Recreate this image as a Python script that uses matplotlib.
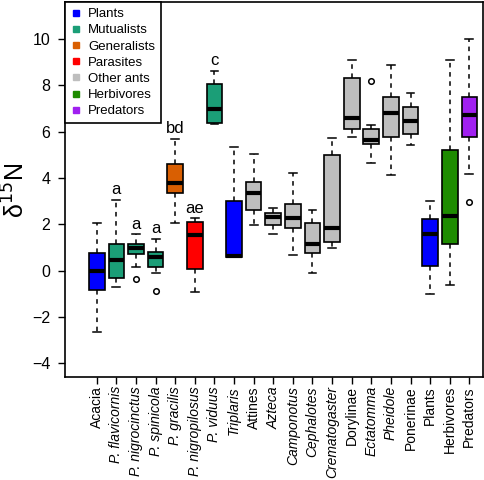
import matplotlib
matplotlib.use("Agg")
import matplotlib.pyplot as plt
from matplotlib.lines import Line2D

plt.rcParams['font.family'] = ['Liberation Sans', 'DejaVu Sans']

# categories on the x axis and whether the name is set in italics
names = ['Acacia', 'P. flavicornis', 'P. nigrocinctus', 'P. spinicola', 'P. gracilis',
         'P. nigropilosus', 'P. viduus', 'Triplaris', 'Attines', 'Azteca', 'Camponotus',
         'Cephalotes', 'Crematogaster', 'Dorylinae', 'Ectatomma', 'Pheidole', 'Ponerinae',
         'Plants', 'Herbivores', 'Predators']
italic = [False, True, True, True, True, True, True, True, False, True, True,
          True, True, False, True, True, False, False, False, False]
group = ['Plants', 'Mutualists', 'Mutualists', 'Mutualists', 'Generalists',
         'Parasites', 'Mutualists', 'Plants', 'Other ants', 'Other ants', 'Other ants',
         'Other ants', 'Other ants', 'Other ants', 'Other ants', 'Other ants', 'Other ants',
         'Plants', 'Herbivores', 'Predators']

# box statistics (delta 15N)
whislo = [-2.64, -0.70, 0.16, -0.12, 2.06, -0.94, 6.34, 0.57, 1.96, 1.60, 0.67,
          -0.09, 0.96, 5.77, 4.65, 4.12, 5.41, -1.01, -0.63, 4.19]
q1 = [-0.84, -0.34, 0.70, 0.14, 3.35, 0.05, 6.37, 0.57, 2.61, 1.96, 1.86,
      0.77, 1.24, 6.09, 5.45, 5.77, 5.91, 0.19, 1.17, 5.77]
med = [0.00, 0.45, 0.98, 0.57, 3.80, 1.53, 6.99, 0.63, 3.35, 2.32, 2.29,
       1.17, 1.84, 6.59, 5.63, 6.78, 6.44, 1.56, 2.35, 6.73]
q3 = [0.77, 1.14, 1.13, 0.81, 4.59, 2.10, 8.07, 3.00, 3.83, 2.49, 2.87,
      2.06, 5.01, 8.33, 6.13, 7.49, 7.06, 2.22, 5.22, 7.49]
whishi = [2.06, 3.04, 1.56, 1.36, 5.70, 2.25, 8.61, 5.34, 5.05, 2.71, 4.22,
          2.61, 5.72, 9.10, 6.27, 8.86, 7.68, 3.00, 9.10, 9.98]
outliers = [[], [], [-0.37], [-0.88], [], [], [], [], [], [], [],
            [], [], [], [8.18], [], [], [], [], [2.95]]

# significance letters
letters = {1: 'a', 2: 'a', 3: 'a', 4: 'bd', 5: 'ae', 6: 'c'}

legend_groups = ['Plants', 'Mutualists', 'Generalists', 'Parasites',
                 'Other ants', 'Herbivores', 'Predators']
colors = {'Plants': '#0000FF', 'Mutualists': '#1B9E77', 'Generalists': '#D95F02',
          'Parasites': '#FF0000', 'Other ants': '#BEBEBE', 'Herbivores': '#1E8C00',
          'Predators': '#A020F0'}

fig = plt.figure(figsize=(4.84, 4.80), dpi=100)
ax = fig.add_axes([65/484, 1 - 377/480, (482.5 - 65)/484, (377 - 2)/480])

stats = []
for i in range(len(names)):
    stats.append(dict(whislo=whislo[i], q1=q1[i], med=med[i], q3=q3[i],
                      whishi=whishi[i], fliers=outliers[i]))

pos = list(range(1, len(names) + 1))
bp = ax.bxp(stats, positions=pos, widths=0.8, patch_artist=True,
            boxprops=dict(edgecolor='black', linewidth=1.2),
            medianprops=dict(color='black', linewidth=3.0, solid_capstyle='butt'),
            whiskerprops=dict(color='black', linewidth=1.1, linestyle=(0, (3, 3))),
            capprops=dict(color='black', linewidth=1.1),
            capwidths=0.4,
            flierprops=dict(marker='o', markerfacecolor='none', markeredgecolor='black',
                            markersize=4, markeredgewidth=1.1))
for patch, g in zip(bp['boxes'], group):
    patch.set_facecolor(colors[g])

for i, s in letters.items():
    ax.text(pos[i], whishi[i] + 0.25, s, ha='center', va='baseline', fontsize=12)

ax.set_xlim(-0.62, 20.67)
ax.set_ylim(-4.59, 11.59)
ax.set_yticks([-4, -2, 0, 2, 4, 6, 8, 10])
ax.set_yticklabels(['\u22124', '\u22122', '0', '2', '4', '6', '8', '10'])
ax.set_xticks(pos)
ax.set_xticklabels(names, rotation=90, fontsize=10)
for lab, it in zip(ax.get_xticklabels(), italic):
    if it:
        lab.set_style('italic')
ax.tick_params(axis='y', length=5, width=1, pad=5.5, labelsize=11.5)
ax.tick_params(axis='x', length=5, width=1, pad=1.5)
for sp in ax.spines.values():
    sp.set_linewidth(1.2)

fig.text(16/484, 1 - 190/480, '\u03b4$^{15}$N', rotation=90, ha='center', va='center',
         fontsize=18)

handles = [Line2D([], [], marker='s', linestyle='None', markersize=5,
                  markerfacecolor=colors[g], markeredgecolor=colors[g]) for g in legend_groups]
leg = ax.legend(handles, legend_groups, loc='upper left', bbox_to_anchor=(0, 1),
                borderaxespad=0, fontsize=9.5, frameon=True, fancybox=False,
                framealpha=1, edgecolor='black', handlelength=0.7, handletextpad=0.6,
                labelspacing=0.3, borderpad=0.45)
leg.get_frame().set_linewidth(1.2)

fig.savefig('out.png', dpi=100)
